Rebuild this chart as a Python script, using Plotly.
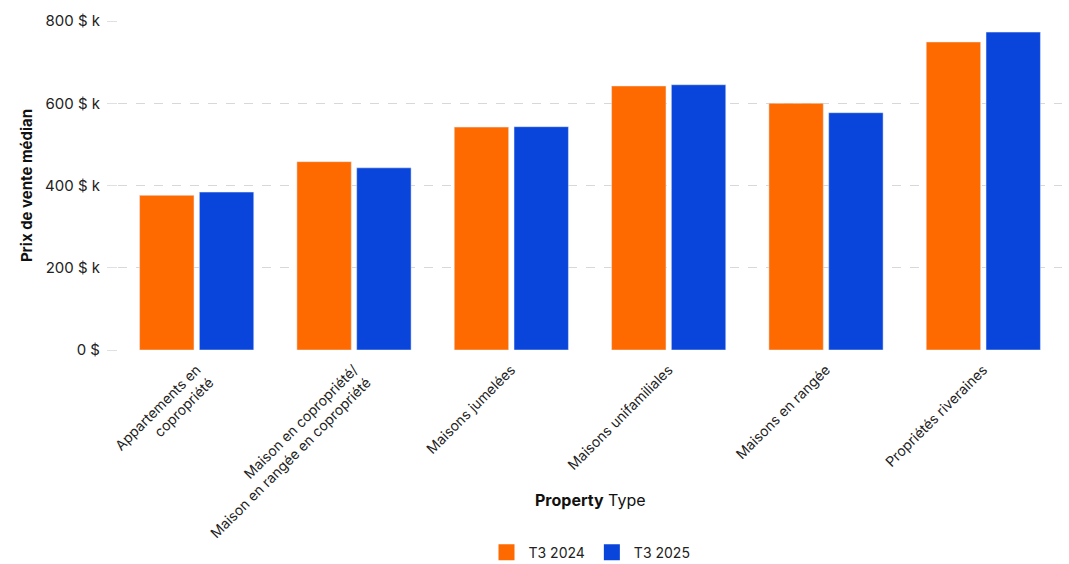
import plotly.graph_objects as go

categories = [
    "Appartements en<br>copropriété",
    "Maison en copropriété/<br>Maison en rangée en copropriété",
    "Maisons jumelées",
    "Maisons unifamiliales",
    "Maisons en rangée",
    "Propriétés riveraines",
]
t3_2024 = [376, 458, 542, 642, 600, 749]
t3_2025 = [384, 443, 543, 645, 577, 773]
series_names = ["T3 2024", "T3 2025"]
tick_vals = [0, 200, 400, 600, 800]
tick_text = ["0 $", "200 $ k", "400 $ k", "600 $ k", "800 $ k"]

ORANGE = "#FF6A00"
BLUE = "#0A45DB"
FONT = "Inter, Roboto, sans-serif"

fig = go.Figure()
fig.add_trace(go.Bar(x=categories, y=t3_2024, name=series_names[0],
                     marker=dict(color=ORANGE), showlegend=False))
fig.add_trace(go.Bar(x=categories, y=t3_2025, name=series_names[1],
                     marker=dict(color=BLUE), showlegend=False))
# legend entries with square swatches
for nm, col in zip(series_names, [ORANGE, BLUE]):
    fig.add_trace(go.Scatter(x=[None], y=[None], mode="markers", name=nm,
                             marker=dict(symbol="square", size=24, color=col)))

fig.update_layout(
    width=1069, height=564,
    margin=dict(l=118, r=7, t=21, b=214),
    paper_bgcolor="white", plot_bgcolor="white",
    font=dict(family=FONT, size=13, color="#222"),
    barmode="group", bargap=0.24, bargroupgap=0.09,
    showlegend=True,
    legend=dict(orientation="h", x=0.5, xanchor="center", xref="paper",
                y=0.02, yanchor="middle", yref="container",
                font=dict(size=14, color="#222"), itemsizing="trace",
                itemwidth=34),
    xaxis=dict(
        automargin=False,
        tickangle=-45, tickfont=dict(size=14, color="#222"),
        showgrid=False, showline=False, zeroline=False,
        ticklabelstandoff=8,
    ),
    yaxis=dict(
        automargin=False,
        range=[0, 800], tickvals=tick_vals, ticktext=tick_text,
        tickfont=dict(size=15, color="#222"),
        showgrid=True, gridcolor="#d8d8d8", griddash="dash", gridwidth=1,
        zeroline=False, showline=False,
        ticks="outside", ticklen=10, tickcolor="#e0e0e0", ticklabelstandoff=4,
        title=dict(text="<b>Prix de vente médian</b>", font=dict(size=15, color="#111"), standoff=8),
    ),
    annotations=[dict(
        text="<b>Property</b> Type", x=0.5, xref="paper", y=-0.456, yref="paper",
        xanchor="center", yanchor="middle", showarrow=False,
        font=dict(size=16, color="#111"),
    )],
)

fig.write_html("out.html")
